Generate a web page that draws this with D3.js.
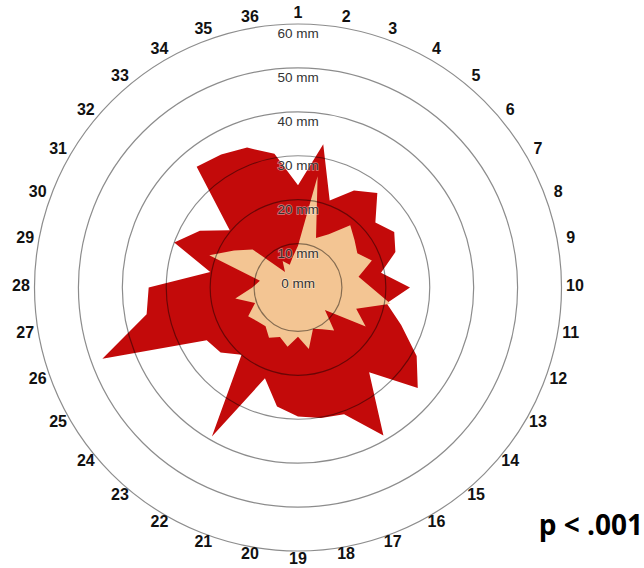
<!DOCTYPE html>
<html>
<head>
<meta charset="utf-8">
<script src="https://cdn.jsdelivr.net/npm/d3@7"></script>
<style>
  html, body { margin: 0; padding: 0; background: #fff; }
  svg { display: block; }
</style>
</head>
<body>
<svg id="chart" width="644" height="568"></svg>
<script>
// 36 measurement directions, numbered clockwise from the top
const directions = d3.range(1, 37).map(String);

// Outer extent (mm) per direction
const outerValues = [
  23.3, 33.1, 21.1, 25.5, 28.1, 23.0, 25.3, 23.6, 19.2, 25.5, 20.5, 25.0,
  31.2, 35.6, 25.2, 38.9, 30.7, 30.2, 29.4, 27.5, 22.0, 39.2, 20.0, 23.0,
  24.0, 47.4, 35.0, 34.0, 20.3, 30.0, 25.8, 20.3, 35.9, 35.0, 33.9, 30.9
];

// Inner extent (mm) per direction
const innerValues = [
   9.5, 25.7, 12.0, 14.0, 18.5, 16.8, 15.6, 17.9, 14.0, 16.7, 21.4, 14.1,
  17.8,  8.0, 12.8, 11.0, 10.0, 14.2, 11.2, 13.7, 12.0, 13.2, 11.5, 12.0,
  13.1, 10.4, 14.5, 10.4,  8.8, 21.5, 16.8, 13.5,  4.6,  7.0,  5.5,  7.0
];

// Reference rings (mm)
const ringTicks = [0, 10, 20, 30, 40, 50, 60];
const ringLabels = ringTicks.map(v => v + " mm");

const pValueText = "p < .001";

const svg = d3.select("#chart");
const cx = 298, cy = 287.5, R = 263.5;

const r = d3.scaleLinear().domain([0, 60]).range([0, R]);
const angle = d3.scaleLinear().domain([0, directions.length]).range([0, 2 * Math.PI]);

const g = svg.append("g").attr("transform", `translate(${cx},${cy})`);

const radial = d3.lineRadial()
  .angle((d, i) => angle(i))
  .radius(d => r(d))
  .curve(d3.curveLinearClosed);

// Filled areas
g.append("path")
  .attr("d", radial(outerValues))
  .attr("fill", "#c30a0a");

g.append("path")
  .attr("d", radial(innerValues))
  .attr("fill", "#f3c593");

// Rings on top of the areas
g.selectAll("circle.ring")
  .data(ringTicks.filter(v => v > 0))
  .join("circle")
  .attr("class", "ring")
  .attr("r", d => r(d))
  .attr("fill", "none")
  .attr("stroke", "#000")
  .attr("stroke-opacity", 0.45)
  .attr("stroke-width", 1.2);

// Ring labels
g.selectAll("text.ring-label")
  .data(ringTicks)
  .join("text")
  .attr("class", "ring-label")
  .attr("x", 0)
  .attr("y", d => d === 0 ? -4 : -r(d) + 9.5)
  .attr("text-anchor", "middle")
  .attr("dominant-baseline", "central")
  .attr("font-family", "'Liberation Sans', Arial, sans-serif")
  .attr("font-size", 13.5)
  .attr("fill", "#333")
  .attr("stroke", "#fff")
  .attr("stroke-opacity", 0.45)
  .attr("stroke-width", 1.5)
  .attr("paint-order", "stroke")
  .text((d, i) => ringLabels[i]);

// Direction numbers around the outside, on a slightly flattened ring
const labelRx = 277, labelRy = 273, labelDy = -2.5;
g.selectAll("text.dir")
  .data(directions)
  .join("text")
  .attr("class", "dir")
  .attr("x", (d, i) => labelRx * Math.sin(angle(i)))
  .attr("y", (d, i) => labelDy - labelRy * Math.cos(angle(i)))
  .attr("text-anchor", "middle")
  .attr("dominant-baseline", "central")
  .attr("font-family", "'Liberation Sans', Arial, sans-serif")
  .attr("font-weight", "bold")
  .attr("font-size", 16)
  .attr("fill", "#111")
  .text(d => d);

// Significance note
svg.append("text")
  .attr("x", 643)
  .attr("y", 535)
  .attr("text-anchor", "end")
  .attr("font-family", "'Open Sans', sans-serif")
  .attr("font-weight", 700)
  .attr("font-size", 28)
  .attr("fill", "#000")
  .text(pValueText);
</script>
</body>
</html>
